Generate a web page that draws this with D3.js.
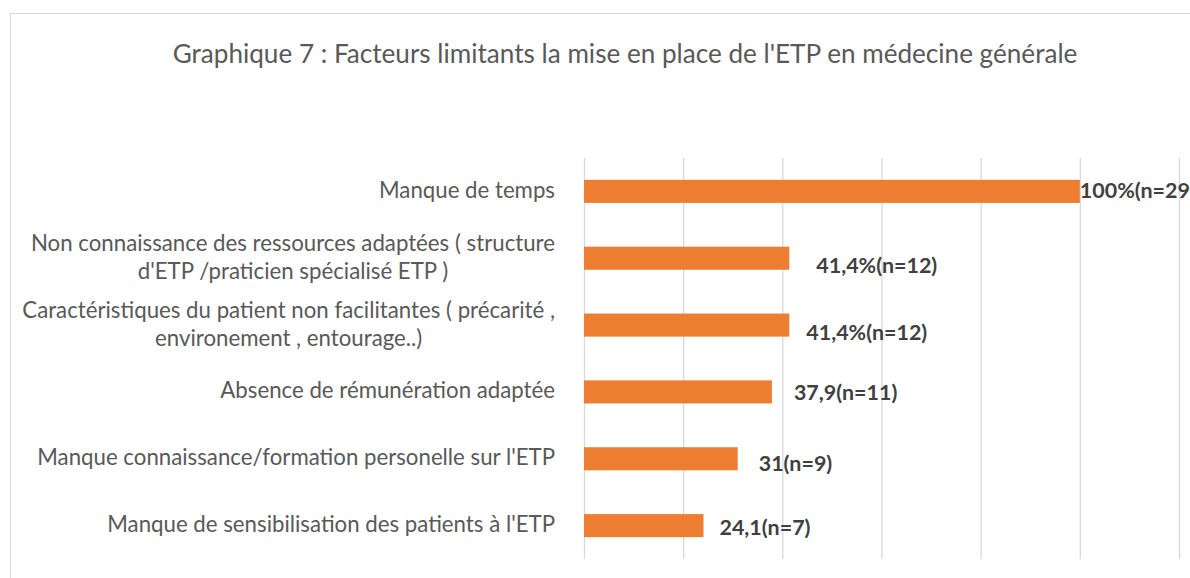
<!DOCTYPE html>
<html><head><meta charset="utf-8">
<script src="https://cdn.jsdelivr.net/npm/d3@7"></script>
<style>body{margin:0;background:#fff}svg{display:block}</style>
</head><body>
<script>
const title = "Graphique 7 : Facteurs limitants la mise en place de l'ETP en médecine générale";
const categories = [
  ["Manque de temps"],
  ["Non connaissance des ressources adaptées ( structure", "d'ETP /praticien spécialisé ETP )"],
  ["Caractéristiques du patient non facilitantes ( précarité ,", "environement , entourage..)"],
  ["Absence de rémunération adaptée"],
  ["Manque connaissance/formation personelle sur l'ETP"],
  ["Manque de sensibilisation des patients à l'ETP"]
];
const values = [100, 41.4, 41.4, 37.9, 31, 24.1];
const valueLabels = ["100%(n=29)", "41,4%(n=12)", "41,4%(n=12)", "37,9(n=11)", "31(n=9)", "24,1(n=7)"];
const xTicks = [0, 20, 40, 60, 80, 100, 120];
// manual label nudges (layout only)
const labelDx = [0, 27, 17, 22, 21, 16];
const labelDy = [0, 8, 8, 1, 5, 2];

const W = 1190, H = 578;
const svg = d3.select("body").append("svg").attr("width", W).attr("height", H);
svg.append("rect").attr("x", 10.5).attr("y", 13.5).attr("width", 1250).attr("height", 700)
  .attr("fill", "#fff").attr("stroke", "#d9d9d9").attr("stroke-width", 1);

const x = d3.scaleLinear().domain([0, 120]).range([584, 1179]);
const y = d3.scaleBand().domain(d3.range(categories.length)).range([158, 559]).paddingInner(0.655).paddingOuter(0.327);

function fitSize(text, family, weight, target, base) {
  const tmp = svg.append("text").attr("font-family", family).attr("font-weight", weight)
    .attr("font-size", base).text(text);
  const w = tmp.node().getComputedTextLength();
  tmp.remove();
  return base * target / w;
}

// title
const titleFont = "Lato, sans-serif";
svg.append("text").attr("x", 625).attr("y", 63).attr("text-anchor", "middle")
  .attr("font-family", titleFont).attr("font-weight", 400)
  .attr("font-size", fitSize(title, titleFont, 400, 905, 22)).attr("fill", "#595959").text(title);

// gridlines
svg.append("g").selectAll("line").data(xTicks).join("line")
  .attr("x1", d => x(d) + 0.5).attr("x2", d => x(d) + 0.5)
  .attr("y1", 158).attr("y2", 559).attr("stroke", "#d9d9d9").attr("stroke-width", 1.3);

// bars
svg.append("g").selectAll("rect").data(values).join("rect")
  .attr("x", x(0)).attr("y", (d, i) => y(i)).attr("width", d => x(d) - x(0)).attr("height", y.bandwidth())
  .attr("fill", "#ED7D31");

// category labels
const catFont = "Lato, sans-serif";
const catSize = fitSize(categories[4][0], catFont, 400, 518, 18);
categories.forEach((lines, i) => {
  const cy = y(i) + y.bandwidth() / 2;
  const g = svg.append("g");
  const lh = 28;
  const texts = lines.map((ln, k) => g.append("text")
    .attr("y", cy + (k - (lines.length - 1) / 2) * lh + 6.5)
    .attr("font-family", catFont).attr("font-size", catSize).attr("fill", "#595959").text(ln));
  if (lines.length === 1) {
    texts[0].attr("x", 555).attr("text-anchor", "end");
  } else {
    const maxW = d3.max(texts, tt => tt.node().getComputedTextLength());
    texts.forEach(tt => tt.attr("x", 555 - maxW / 2).attr("text-anchor", "middle"));
  }
});

// value labels
const valFont = "Lato, sans-serif";
const valSize = fitSize(valueLabels[1], valFont, "bold", 121, 18);
svg.append("g").selectAll("text").data(values).join("text")
  .attr("x", (d, i) => x(d) + labelDx[i])
  .attr("y", (d, i) => y(i) + y.bandwidth() / 2 + 7 + labelDy[i])
  .attr("font-family", valFont).attr("font-weight", "bold").attr("font-size", valSize)
  .attr("fill", "#404040").text((d, i) => valueLabels[i]);
</script>
</body></html>
